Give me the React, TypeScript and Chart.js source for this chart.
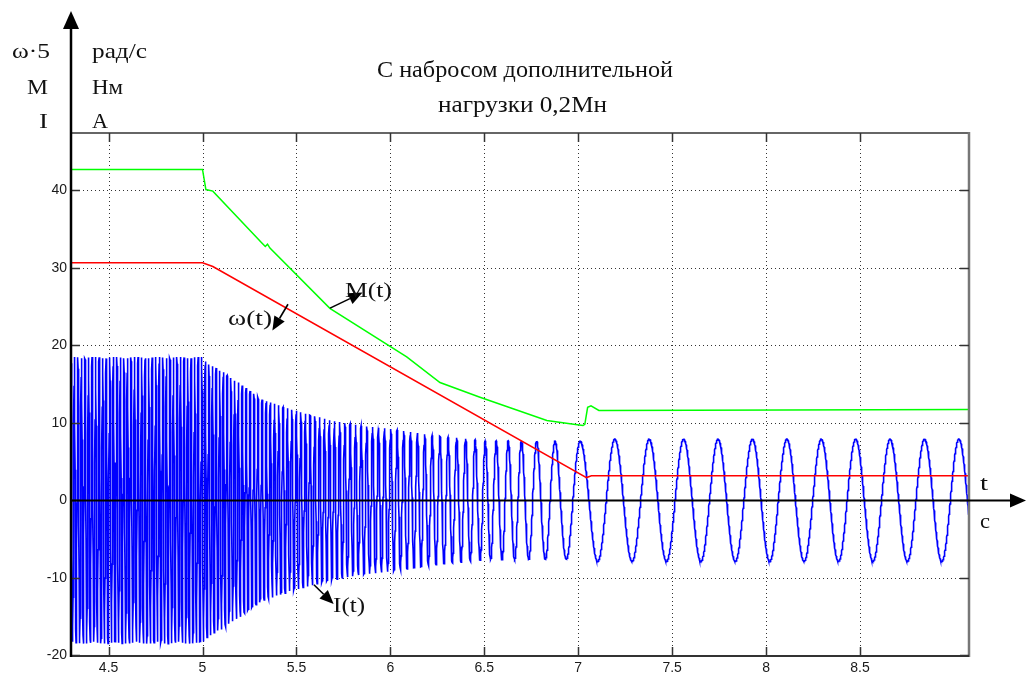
import React, { useEffect, useRef } from "react";
import { Chart, registerables } from "chart.js";

Chart.register(...registerables);

// Axis ranges and tick labels
const X_MIN = 4.3;
const X_MAX = 9.08;
const Y_MIN = -20.1;
const Y_MAX = 47.4;
const xTicks = [4.5, 5, 5.5, 6, 6.5, 7, 7.5, 8, 8.5];
const yTicks = [-20, -10, 0, 10, 20, 30, 40];

// ω(t)·5, rad/s
const omegaTimes = [4.3, 5.0, 5.055, 7.044, 7.07, 9.08];
const omegaValues = [30.65, 30.65, 30.17, 2.93, 3.15, 3.15];

// M(t), N·m
const torqueTimes = [
  4.3, 5.0, 5.018, 5.055, 5.316, 5.334, 5.346, 5.359, 5.678, 6.087, 6.264,
  6.477, 6.833, 6.956, 7.025, 7.035, 7.05, 7.068, 7.11, 9.08,
];
const torqueValues = [
  42.7, 42.7, 40.1, 39.9, 33.2, 32.75, 33.05, 32.55, 24.77, 18.5, 15.2, 13.3,
  10.3, 9.86, 9.64, 9.8, 12.0, 12.2, 11.6, 11.7,
];

// I(t), A: amplitude envelope and supply frequency of the phase current
const currentEnvTimes = [4.3, 5.0, 5.02, 5.136, 5.316, 5.49, 5.67, 5.85, 6.0, 6.25, 6.5, 7.0, 7.1, 9.08];
const currentEnvAmp = [18.5, 18.5, 17.8, 16.2, 13.0, 11.6, 10.4, 9.6, 9.2, 8.3, 7.7, 7.6, 7.9, 7.9];
const currentFreqTimes = [4.3, 5.0, 5.055, 7.044, 7.07, 9.08];
const currentFreqHz = [53.1, 53.1, 52.3, 5.08, 5.46, 5.46];
const currentPeakTime = 7.195;
const CURRENT_STEP = 0.001;

function interp(ts: number[], vs: number[], t: number): number {
  if (t <= ts[0]) return vs[0];
  for (let i = 1; i < ts.length; i++) {
    if (t <= ts[i]) {
      const k = (t - ts[i - 1]) / (ts[i] - ts[i - 1]);
      return vs[i - 1] + k * (vs[i] - vs[i - 1]);
    }
  }
  return vs[vs.length - 1];
}

function toPoints(ts: number[], vs: number[]) {
  return ts.map((t, i) => ({ x: t, y: vs[i] }));
}

function buildCurrent() {
  const n = Math.round((X_MAX - X_MIN) / CURRENT_STEP);
  const times: number[] = [];
  const phases: number[] = [];
  let ph = 0;
  for (let i = 0; i <= n; i++) {
    const t = X_MIN + i * CURRENT_STEP;
    if (i > 0) {
      ph += 2 * Math.PI * interp(currentFreqTimes, currentFreqHz, t - CURRENT_STEP / 2) * CURRENT_STEP;
    }
    times.push(t);
    phases.push(ph);
  }
  const j = (currentPeakTime - X_MIN) / CURRENT_STEP;
  const j0 = Math.floor(j);
  const refPhase = phases[j0] + (j - j0) * (phases[j0 + 1] - phases[j0]);
  return times.map((t, i) => ({
    x: t,
    y: interp(currentEnvTimes, currentEnvAmp, t) * Math.cos(phases[i] - refPhase),
  }));
}

// Curve annotations in data units: label anchor and arrow (from -> tip)
const annotations = [
  { text: "M(t)", t: 5.758, v: 26.2, width: 47, from: [5.679, 24.8], to: [5.852, 26.8] },
  { text: "ω(t)", t: 5.136, v: 22.6, width: 44, from: [5.455, 25.3], to: [5.372, 21.9] },
  { text: "I(t)", t: 5.695, v: -14.4, width: 32, from: [5.593, -10.9], to: [5.698, -13.4] },
];

const SERIF = '"Liberation Serif", "Times New Roman", serif';
const SANS = '"Liberation Sans", Arial, sans-serif';

function drawText(
  ctx: CanvasRenderingContext2D,
  text: string,
  x: number,
  y: number,
  size: number,
  width: number,
  align: "left" | "right" | "center"
) {
  ctx.font = `${size}px ${SERIF}`;
  const w = ctx.measureText(text).width;
  const sx = width / w;
  const left = align === "left" ? x : align === "right" ? x - width : x - width / 2;
  ctx.save();
  ctx.translate(left, y);
  ctx.scale(sx, 1);
  ctx.textAlign = "left";
  ctx.textBaseline = "alphabetic";
  ctx.fillText(text, 0, 0);
  ctx.restore();
}

function arrow(ctx: CanvasRenderingContext2D, x1: number, y1: number, x2: number, y2: number) {
  const ang = Math.atan2(y2 - y1, x2 - x1);
  const len = 14;
  const hw = 6;
  const bx = x2 - len * Math.cos(ang);
  const by = y2 - len * Math.sin(ang);
  ctx.beginPath();
  ctx.moveTo(x1, y1);
  ctx.lineTo(bx, by);
  ctx.lineWidth = 1.6;
  ctx.stroke();
  ctx.beginPath();
  ctx.moveTo(x2, y2);
  ctx.lineTo(bx + hw * Math.sin(ang), by - hw * Math.cos(ang));
  ctx.lineTo(bx - hw * Math.sin(ang), by + hw * Math.cos(ang));
  ctx.closePath();
  ctx.fill();
}

const decorations = {
  id: "decorations",
  beforeDatasetsDraw(chart: any) {
    const { ctx, chartArea: a, scales } = chart;
    const x = scales.x;
    const y = scales.y;
    ctx.save();
    ctx.strokeStyle = "#333";
    ctx.lineWidth = 1;
    ctx.setLineDash([1, 3]);
    for (const v of xTicks) {
      const px = Math.round(x.getPixelForValue(v)) + 0.5;
      ctx.beginPath();
      ctx.moveTo(px, a.top);
      ctx.lineTo(px, a.bottom);
      ctx.stroke();
    }
    for (const v of yTicks) {
      if (v === 0) continue;
      const py = Math.round(y.getPixelForValue(v)) + 0.5;
      ctx.beginPath();
      ctx.moveTo(a.left, py);
      ctx.lineTo(a.right, py);
      ctx.stroke();
    }
    ctx.restore();
  },
  afterDatasetsDraw(chart: any) {
    const { ctx, chartArea: a, scales } = chart;
    const x = scales.x;
    const y = scales.y;
    ctx.save();

    // box
    ctx.lineCap = "butt";
    ctx.strokeStyle = "#666";
    ctx.lineWidth = 2;
    ctx.beginPath();
    ctx.moveTo(a.left, a.top);
    ctx.lineTo(a.right, a.top);
    ctx.stroke();
    ctx.strokeStyle = "#777";
    ctx.lineWidth = 2.5;
    ctx.beginPath();
    ctx.moveTo(a.right, a.top - 1);
    ctx.lineTo(a.right, a.bottom + 1);
    ctx.stroke();
    ctx.strokeStyle = "#333";
    ctx.lineWidth = 2;
    ctx.beginPath();
    ctx.moveTo(a.left, a.bottom);
    ctx.lineTo(a.right, a.bottom);
    ctx.stroke();

    // tick marks on all four sides
    ctx.strokeStyle = "#333";
    ctx.lineWidth = 1.5;
    const tl = 9;
    for (const v of xTicks) {
      const px = Math.round(x.getPixelForValue(v)) + 0.5;
      ctx.beginPath();
      ctx.moveTo(px, a.bottom);
      ctx.lineTo(px, a.bottom - tl);
      ctx.moveTo(px, a.top);
      ctx.lineTo(px, a.top + tl);
      ctx.stroke();
    }
    for (const v of yTicks) {
      const py = Math.round(y.getPixelForValue(v)) + 0.5;
      ctx.beginPath();
      ctx.moveTo(a.left, py);
      ctx.lineTo(a.left + tl, py);
      ctx.moveTo(a.right, py);
      ctx.lineTo(a.right - tl, py);
      ctx.stroke();
    }

    // time axis through zero with arrow
    const y0 = Math.round(y.getPixelForValue(0)) + 0.5;
    ctx.strokeStyle = "#000";
    ctx.fillStyle = "#000";
    ctx.lineWidth = 2;
    ctx.beginPath();
    ctx.moveTo(a.left, y0);
    ctx.lineTo(a.right + 44, y0);
    ctx.stroke();
    ctx.beginPath();
    ctx.moveTo(a.right + 57, y0);
    ctx.lineTo(a.right + 41, y0 - 7);
    ctx.lineTo(a.right + 41, y0 + 7);
    ctx.closePath();
    ctx.fill();

    // vertical axis with arrow
    ctx.lineWidth = 2.5;
    ctx.beginPath();
    ctx.moveTo(a.left, 26);
    ctx.lineTo(a.left, a.bottom + 1);
    ctx.stroke();
    ctx.beginPath();
    ctx.moveTo(a.left, 11);
    ctx.lineTo(a.left - 8, 29);
    ctx.lineTo(a.left + 8, 29);
    ctx.closePath();
    ctx.fill();

    // quantity / unit headings and title
    ctx.fillStyle = "#111";
    drawText(ctx, "ω·5", 50, 58, 22, 38, "right");
    drawText(ctx, "рад/с", 92, 58, 22, 55, "left");
    drawText(ctx, "M", 48, 94, 22, 21, "right");
    drawText(ctx, "Нм", 92, 94, 22, 31, "left");
    drawText(ctx, "I", 48, 128, 22, 9, "right");
    drawText(ctx, "A", 92, 128, 22, 16, "left");
    drawText(ctx, "С набросом дополнительной", 525, 77, 24, 296, "center");
    drawText(ctx, "нагрузки 0,2Мн", 522.5, 112, 24, 169, "center");

    // axis name and unit at the arrow
    drawText(ctx, "t", a.right + 11, y0 - 11, 22, 8, "left");
    drawText(ctx, "c", a.right + 11, y0 + 27, 22, 10, "left");

    // curve labels with arrows
    for (const an of annotations) {
      const fx = x.getPixelForValue(an.from[0]);
      const fy = y.getPixelForValue(an.from[1]);
      const tx = x.getPixelForValue(an.to[0]);
      const ty = y.getPixelForValue(an.to[1]);
      ctx.strokeStyle = "#000";
      ctx.fillStyle = "#000";
      arrow(ctx, fx, fy, tx, ty);
      ctx.fillStyle = "#111";
      drawText(ctx, an.text, x.getPixelForValue(an.t), y.getPixelForValue(an.v), 22, an.width, "left");
    }
    ctx.restore();
  },
};

export default function App() {
  const canvasRef = useRef<HTMLCanvasElement>(null);

  useEffect(() => {
    const canvas = canvasRef.current;
    if (!canvas) return;
    const tickFont = { family: SANS, size: 14 };
    const chart = new Chart(canvas, {
      type: "line",
      data: {
        datasets: [
          {
            label: "M(t)",
            data: toPoints(torqueTimes, torqueValues),
            borderColor: "#00ff00",
            borderWidth: 1.5,
            pointRadius: 0,
            fill: false,
            order: 1,
          },
          {
            label: "ω(t)",
            data: toPoints(omegaTimes, omegaValues),
            borderColor: "#ff0000",
            borderWidth: 1.5,
            pointRadius: 0,
            fill: false,
            order: 2,
          },
          {
            label: "I(t)",
            data: buildCurrent(),
            borderColor: "#0000ff",
            borderWidth: 1.6,
            pointRadius: 0,
            fill: false,
            order: 3,
          },
        ],
      },
      options: {
        responsive: false,
        animation: false,
        parsing: false,
        normalized: true,
        events: [],
        layout: { padding: { left: 0, top: 133, right: 57, bottom: 0 } },
        elements: { line: { tension: 0 }, point: { radius: 0 } },
        plugins: {
          legend: { display: false },
          tooltip: { enabled: false },
          title: { display: false },
        },
        scales: {
          x: {
            type: "linear",
            min: X_MIN,
            max: X_MAX,
            grid: { display: false, drawTicks: false },
            border: { display: false },
            afterBuildTicks: (s: any) => {
              s.ticks = xTicks.map((v) => ({ value: v }));
            },
            afterFit: (s: any) => {
              s.height = 19;
            },
            ticks: {
              font: tickFont,
              color: "#1a1a1a",
              padding: 4,
              maxRotation: 0,
              autoSkip: false,
              callback: (v: any) => String(v),
            },
          },
          y: {
            type: "linear",
            min: Y_MIN,
            max: Y_MAX,
            grid: { display: false, drawTicks: false },
            border: { display: false },
            afterBuildTicks: (s: any) => {
              s.ticks = yTicks.map((v) => ({ value: v }));
            },
            afterFit: (s: any) => {
              s.width = 71;
            },
            ticks: {
              font: tickFont,
              color: "#1a1a1a",
              padding: 4,
              autoSkip: false,
              callback: (v: any) => String(v),
            },
          },
        },
      },
      plugins: [decorations],
    });
    return () => chart.destroy();
  }, []);

  return (
    <div style={{ position: "fixed", left: 0, top: 0, width: 1026, height: 675, background: "#fff" }}>
      <canvas ref={canvasRef} width={1026} height={675} style={{ display: "block" }} />
    </div>
  );
}
